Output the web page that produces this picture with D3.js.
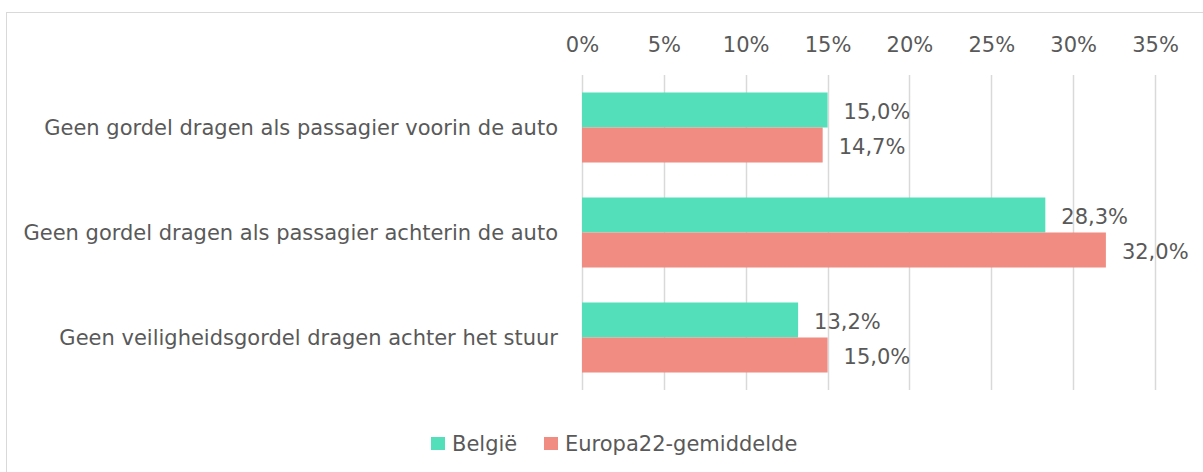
<!DOCTYPE html>
<html><head><meta charset="utf-8">
<script src="https://cdn.jsdelivr.net/npm/d3@7"></script>
<style>
html,body{margin:0;padding:0;background:#fff;}
svg text{font-family:"DejaVu Sans",sans-serif;fill:#595959;}
</style></head>
<body><svg id="c" width="1203" height="472"></svg>
<script>
const categories = [
  "Geen gordel dragen als passagier voorin de auto",
  "Geen gordel dragen als passagier achterin de auto",
  "Geen veiligheidsgordel dragen achter het stuur"
];
const seriesNames = ["België", "Europa22-gemiddelde"];
const belgie = [15.0, 28.3, 13.2];
const europa = [14.7, 32.0, 15.0];
const tickValues = [0, 5, 10, 15, 20, 25, 30, 35];
const colors = ["#53DFBA", "#F08C82"];

const FONT = '"DejaVu Sans",sans-serif';
const svg = d3.select("#c");
const fs = 21;
svg.append("rect").attr("x",6.5).attr("y",12.5).attr("width",1210).attr("height",480)
  .attr("fill","#fff").attr("stroke","#d9d9d9").attr("stroke-width",1);

const x = d3.scaleLinear().domain([0,35]).range([582,1155]);
const y = d3.scaleBand().domain(categories).range([75,390]).paddingInner(1/3).paddingOuter(1/6);
const ys = d3.scaleBand().domain(seriesNames).range([0,y.bandwidth()]);

// gridlines
svg.append("g").selectAll("line").data(tickValues).join("line")
  .attr("x1",d=>Math.round(x(d))+0.5).attr("x2",d=>Math.round(x(d))+0.5)
  .attr("y1",75).attr("y2",390).attr("stroke","#d9d9d9").attr("stroke-width",1.5);

// top axis labels
const ax = svg.append("g").attr("transform","translate(0,44.5)")
  .call(d3.axisTop(x).tickValues(tickValues).tickFormat(d=>d+"%").tickSize(0));
ax.select(".domain").remove();
ax.selectAll("text").attr("font-size",fs).attr("dy","0.35em").attr("y",0)
  .style("font-family",FONT).attr("fill","#595959");

// category labels
const ay = svg.append("g").attr("transform","translate(558,0)")
  .call(d3.axisLeft(y).tickSize(0).tickPadding(0));
ay.select(".domain").remove();
ay.selectAll("text").attr("font-size",fs).attr("dy","0.35em")
  .style("font-family",FONT).attr("fill","#595959");

const data = [];
categories.forEach((c,i)=>{
  data.push({c, s:seriesNames[0], v:belgie[i], col:colors[0]});
  data.push({c, s:seriesNames[1], v:europa[i], col:colors[1]});
});

svg.append("g").selectAll("rect").data(data).join("rect")
  .attr("x",x(0)).attr("y",d=>y(d.c)+ys(d.s))
  .attr("width",d=>x(d.v)-x(0)).attr("height",ys.bandwidth())
  .attr("fill",d=>d.col);

svg.append("g").selectAll("text").data(data).join("text")
  .attr("x",d=>x(d.v)+16).attr("y",d=>y(d.c)+ys(d.s)+ys.bandwidth()/2+1.5)
  .attr("dy","0.35em").attr("font-size",fs)
  .text(d=>d.v.toFixed(1).replace(".",",")+"%");

// legend
const lg = svg.append("g");
const legendItems = [{n:seriesNames[0],c:colors[0],x:431},{n:seriesNames[1],c:colors[1],x:544}];
legendItems.forEach(it=>{
  lg.append("rect").attr("x",it.x).attr("y",437).attr("width",14).attr("height",13).attr("fill",it.c);
  lg.append("text").attr("x",it.x+21).attr("y",443.5).attr("dy","0.35em").attr("font-size",fs).text(it.n);
});
</script></body></html>
